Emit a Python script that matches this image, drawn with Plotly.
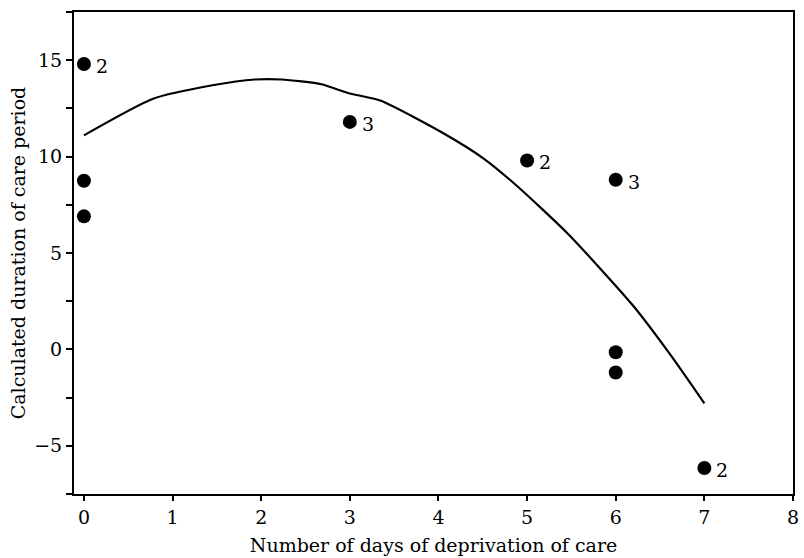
import plotly.graph_objects as go

# Observed points
pt_x = [0, 0, 0, 3, 5, 6, 6, 6, 7]
pt_y = [14.8, 8.75, 6.9, 11.8, 9.8, 8.8, -0.15, -1.2, -6.15]

# Count labels next to points
lab_x = [0, 3, 5, 6, 7]
lab_y = [14.8, 11.8, 9.8, 8.8, -6.15]
lab_text = ["2", "3", "2", "3", "2"]

# Fitted curve
curve_x = [0, 0.78, 1.45, 1.93, 2.23, 2.68, 2.98, 3.35, 4.06, 4.51, 4.88, 5.46, 6.19, 6.62, 7.0]
curve_y = [11.1, 13.0, 13.7, 14.0, 14.0, 13.75, 13.3, 12.9, 11.2, 9.9, 8.5, 6.0, 2.3, -0.3, -2.8]

x_ticks = [0, 1, 2, 3, 4, 5, 6, 7, 8]
y_ticks = [-5, 0, 5, 10, 15]

FONT = "DejaVu Serif"

fig = go.Figure()
fig.add_trace(go.Scatter(x=curve_x, y=curve_y, mode="lines", line_shape="spline",
                         line=dict(color="black", width=2.2, smoothing=0.6), showlegend=False))
fig.add_trace(go.Scatter(x=pt_x, y=pt_y, mode="markers",
                         marker=dict(color="black", size=14), showlegend=False))

for x, y, t in zip(lab_x, lab_y, lab_text):
    fig.add_annotation(x=x, y=y, text=t, showarrow=False, xanchor="left",
                       xshift=10, yshift=-2, font=dict(family=FONT, size=19, color="black"))

fig.update_layout(
    width=804, height=558,
    margin=dict(l=74, r=5, t=12, b=63),
    paper_bgcolor="white", plot_bgcolor="white",
    font=dict(family=FONT, color="black"),
)
fig.update_xaxes(
    range=[-0.112, 8.0], tickvals=x_ticks, ticks="outside", ticklen=5, tickwidth=2,
    tickcolor="black", showline=True, linewidth=2, linecolor="black", mirror=True,
    showgrid=False, zeroline=False, tickfont=dict(family=FONT, size=19),
    title=dict(text="Number of days of deprivation of care", font=dict(family=FONT, size=19), standoff=12),
)
fig.update_yaxes(
    range=[-7.5, 17.5], tickvals=y_ticks, ticks="outside", ticklen=6, tickwidth=2,
    tickcolor="black", showline=True, linewidth=2, linecolor="black", mirror=True,
    showgrid=False, zeroline=False, tickfont=dict(family=FONT, size=19),
    minor=dict(dtick=2.5, tick0=0, ticks="outside", ticklen=6, tickwidth=2, tickcolor="black", showgrid=False),
    title=dict(text="Calculated duration of care period", font=dict(family=FONT, size=19), standoff=4),
)

fig.write_html("out.html")
